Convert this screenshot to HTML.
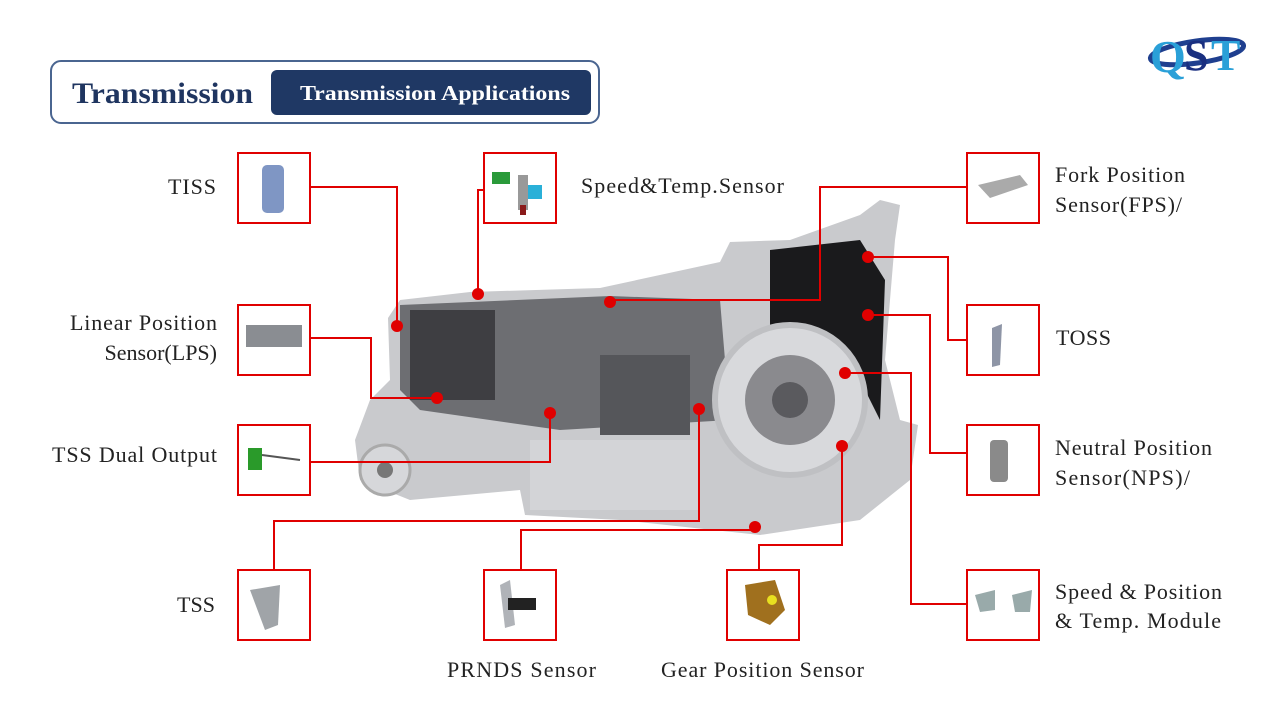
<!DOCTYPE html>
<html><head><meta charset="utf-8"><style>
html,body{margin:0;padding:0;background:#fff;}
svg{display:block}
text{font-family:"Liberation Serif",serif;}
</style></head><body>
<svg width="1280" height="720" viewBox="0 0 1280 720" xmlns="http://www.w3.org/2000/svg">
<!-- header -->
<rect x="51" y="61" width="548" height="62" rx="10" fill="#fff" stroke="#4a6590" stroke-width="2"/>
<text x="72" y="103" font-size="30" font-weight="bold" fill="#1f3560" textLength="181" lengthAdjust="spacingAndGlyphs">Transmission</text>
<rect x="271" y="70" width="320" height="45" rx="6" fill="#1f3864"/>
<text x="300" y="100" font-size="21" font-weight="bold" fill="#fff" textLength="270" lengthAdjust="spacingAndGlyphs">Transmission Applications</text>
<!-- logo -->
<ellipse cx="1197" cy="52" rx="47" ry="11" fill="none" stroke="#1f3f8f" stroke-width="5" transform="rotate(-8 1197 52)"/>
<text x="1150" y="72" font-size="46" font-weight="bold" fill="#2aa0d8" font-family="Liberation Sans,sans-serif">Q</text>
<text x="1184" y="70" font-size="44" font-weight="bold" fill="#1a2f80" font-family="Liberation Sans,sans-serif">S</text>
<text x="1211" y="70" font-size="44" font-weight="bold" fill="#2aa0d8" font-family="Liberation Sans,sans-serif">T</text>

<!-- transmission body -->
<g>
<path d="M388 318 L400 300 L470 292 L600 288 L720 262 L730 242 L790 240 L860 215 L880 200 L900 205 L895 240 L890 300 L885 360 L900 420 L918 425 L910 480 L860 520 L760 535 L620 520 L525 515 L520 490 L410 500 L360 480 L355 440 L370 400 L390 380 Z" fill="#c9cacd"/>
<path d="M400 305 L610 296 L720 300 L730 420 L560 430 L420 410 L400 390 Z" fill="#6d6e72"/>
<rect x="410" y="310" width="85" height="90" fill="#3e3e42"/>
<rect x="600" y="355" width="90" height="80" fill="#55565a"/>
<path d="M770 250 L860 240 L885 280 L880 420 L850 360 L770 330 Z" fill="#1a1a1c"/>
<circle cx="790" cy="400" r="75" fill="#d8d9dc" stroke="#bfc0c3" stroke-width="6"/>
<circle cx="790" cy="400" r="45" fill="#8a8a8e"/>
<circle cx="790" cy="400" r="18" fill="#5a5a5e"/>
<rect x="530" y="440" width="170" height="70" fill="#d3d4d7"/>
<circle cx="385" cy="470" r="25" fill="#d6d7da" stroke="#aaa" stroke-width="3"/>
<circle cx="385" cy="470" r="8" fill="#777"/>
</g>

<!-- connectors -->
<g fill="none" stroke="#e00000" stroke-width="2">
<polyline points="310,187 397,187 397,326"/>
<polyline points="484,190 478,190 478,294"/>
<polyline points="967,187 820,187 820,300 610,300"/>
<polyline points="868,257 948,257 948,340 967,340"/>
<polyline points="868,315 930,315 930,453 967,453"/>
<polyline points="845,373 911,373 911,604 967,604"/>
<polyline points="310,338 371,338 371,398 437,398"/>
<polyline points="310,462 550,462 550,413"/>
<polyline points="274,570 274,521 699,521 699,409"/>
<polyline points="521,570 521,530 755,530"/>
<polyline points="759,570 759,545 842,545 842,446"/>
</g>
<g fill="#e00000">
<circle cx="397" cy="326" r="6"/><circle cx="478" cy="294" r="6"/><circle cx="610" cy="302" r="6"/>
<circle cx="868" cy="257" r="6"/><circle cx="868" cy="315" r="6"/><circle cx="845" cy="373" r="6"/>
<circle cx="437" cy="398" r="6"/><circle cx="550" cy="413" r="6"/><circle cx="699" cy="409" r="6"/>
<circle cx="755" cy="527" r="6"/><circle cx="842" cy="446" r="6"/>
</g>

<!-- boxes -->
<g fill="#fff" stroke="#e00000" stroke-width="2">
<rect x="238" y="153" width="72" height="70"/>
<rect x="484" y="153" width="72" height="70"/>
<rect x="967" y="153" width="72" height="70"/>
<rect x="238" y="305" width="72" height="70"/>
<rect x="967" y="305" width="72" height="70"/>
<rect x="238" y="425" width="72" height="70"/>
<rect x="967" y="425" width="72" height="70"/>
<rect x="238" y="570" width="72" height="70"/>
<rect x="484" y="570" width="72" height="70"/>
<rect x="727" y="570" width="72" height="70"/>
<rect x="967" y="570" width="72" height="70"/>
</g>
<!-- icons -->
<rect x="262" y="165" width="22" height="48" rx="5" fill="#7f96c4"/>
<rect x="492" y="172" width="18" height="12" fill="#2a9a3a"/><rect x="518" y="175" width="10" height="35" fill="#999"/><rect x="528" y="185" width="14" height="14" fill="#2ab0d8"/><rect x="520" y="205" width="6" height="10" fill="#8a1a1a"/>
<path d="M978 185 L1020 175 L1028 185 L990 198 Z" fill="#aaa"/>
<rect x="246" y="325" width="56" height="22" fill="#8a8d92"/>
<path d="M992 328 L1002 324 L1000 365 L992 367 Z" fill="#8e95a6"/>
<rect x="248" y="448" width="14" height="22" fill="#2a9a2a"/><line x1="262" y1="455" x2="300" y2="460" stroke="#555" stroke-width="2"/>
<rect x="990" y="440" width="18" height="42" rx="4" fill="#8a8a8a"/>
<path d="M250 590 L280 585 L278 625 L265 630 Z" fill="#a0a4a8"/>
<path d="M500 585 L510 580 L515 625 L505 628 Z" fill="#b0b3b8"/><rect x="508" y="598" width="28" height="12" fill="#222"/>
<path d="M745 585 L775 580 L785 610 L770 625 L748 615 Z" fill="#a0701e"/><circle cx="772" cy="600" r="5" fill="#e8e020"/>
<path d="M975 595 L995 590 L995 610 L980 612 Z" fill="#9aa"/><path d="M1012 595 L1032 590 L1030 612 L1015 612 Z" fill="#9aa"/>

<!-- labels -->
<g font-size="22" fill="#222" lengthAdjust="spacingAndGlyphs">
<text x="168" y="194" textLength="48">TISS</text>
<text x="581" y="193" textLength="203">Speed&amp;Temp.Sensor</text>
<text x="1055" y="182" textLength="130">Fork Position</text>
<text x="1055" y="212" textLength="127">Sensor(FPS)/</text>
<text x="70" y="330" textLength="147">Linear Position</text>
<text x="217" y="360" text-anchor="end">Sensor(LPS)</text>
<text x="1056" y="345" textLength="55">TOSS</text>
<text x="52" y="462" textLength="165">TSS Dual Output</text>
<text x="1055" y="455" textLength="157">Neutral Position</text>
<text x="1055" y="485" textLength="135">Sensor(NPS)/</text>
<text x="177" y="612" textLength="38">TSS</text>
<text x="1055" y="599" textLength="167">Speed &amp; Position</text>
<text x="1055" y="628" textLength="166">&amp; Temp. Module</text>
<text x="447" y="677" textLength="149">PRNDS Sensor</text>
<text x="661" y="677" textLength="203">Gear Position Sensor</text>
</g>
</svg>
</body></html>
